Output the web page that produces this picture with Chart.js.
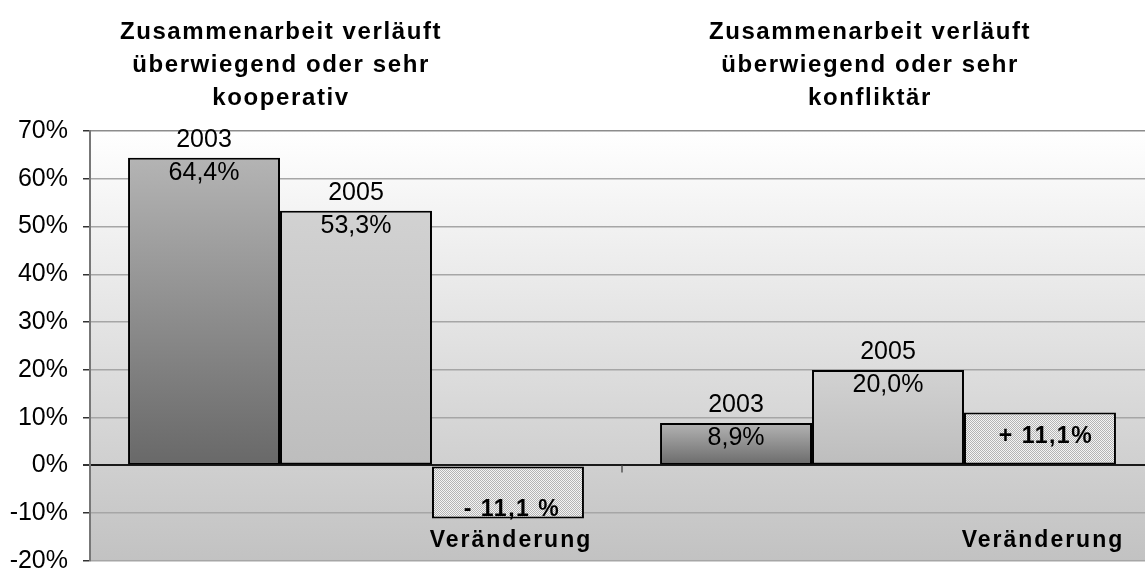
<!DOCTYPE html>
<html>
<head>
<meta charset="utf-8">
<script src="https://cdn.jsdelivr.net/npm/chart.js@4.4.0/dist/chart.umd.min.js"></script>
<style>
  html, body { margin: 0; padding: 0; background: #fff; overflow: hidden; }
  canvas { display: block; }
</style>
</head>
<body>
<canvas id="bar-chart" width="1154" height="569"></canvas>
<script>
// Daten
const categories = ['kooperativ', 'konfliktär'];
const seriesNames = ['2003', '2005', 'Veränderung'];
const values2003 = [64.4, 8.9];
const values2005 = [53.3, 20.0];
const valuesChange = [-11.1, 11.1];
const changeLabels = ['- 11,1 %', '+ 11,1%'];
const titles = [
    ['Zusammenarbeit verläuft', 'überwiegend oder sehr', 'kooperativ'],
    ['Zusammenarbeit verläuft', 'überwiegend oder sehr', 'konfliktär']
];
const yMin = -20, yMax = 70, yStep = 10;

const FONT = "'Liberation Sans', Arial, sans-serif";

// Schraffur fuer die Veraenderung
const pc = document.createElement('canvas');
pc.width = 2; pc.height = 2;
const pctx = pc.getContext('2d');
pctx.fillStyle = '#f4f4f4'; pctx.fillRect(0, 0, 2, 2);
pctx.fillStyle = '#b4b4b4'; pctx.fillRect(0, 0, 1, 1); pctx.fillRect(1, 1, 1, 1);
const hatch = pctx.createPattern(pc, 'repeat');

// Verlauf pro Balken
function barGradient(top, bottom) {
    return function (c) {
        const chart = c.chart;
        if (!chart.chartArea || c.raw === undefined) return bottom;
        const y = chart.scales.y;
        const y0 = y.getPixelForValue(c.raw);
        const y1 = y.getPixelForValue(0);
        const g = chart.ctx.createLinearGradient(0, Math.min(y0, y1), 0, Math.max(y0, y1) + 1);
        g.addColorStop(0, top);
        g.addColorStop(1, bottom);
        return g;
    };
}

const plotBackground = {
    id: 'plotBackground',
    beforeDraw(chart) {
        const a = chart.chartArea, ctx = chart.ctx;
        const g = ctx.createLinearGradient(0, a.top, 0, a.bottom);
        g.addColorStop(0, '#ffffff');
        g.addColorStop(1, '#c2c2c2');
        ctx.save();
        ctx.fillStyle = g;
        ctx.fillRect(a.left, a.top, a.right - a.left, a.bottom - a.top);
        ctx.restore();
    }
};

const annotations = {
    id: 'annotations',
    afterDatasetsDraw(chart) {
        const ctx = chart.ctx, a = chart.chartArea;
        const x = chart.scales.x, y = chart.scales.y;
        const zero = y.getPixelForValue(0);
        ctx.save();

        // kleiner Teilstrich zwischen den Kategorien
        const mid = (x.getPixelForValue(0) + x.getPixelForValue(1)) / 2;
        ctx.strokeStyle = '#555';
        ctx.lineWidth = 1.5;
        ctx.beginPath();
        ctx.moveTo(mid, zero);
        ctx.lineTo(mid, zero + 7);
        ctx.stroke();

        ctx.fillStyle = '#000';
        ctx.textAlign = 'center';
        ctx.textBaseline = 'alphabetic';

        // Jahr und Wert
        ctx.font = '25px ' + FONT;
        [0, 1].forEach(function (di) {
            const meta = chart.getDatasetMeta(di);
            const data = chart.data.datasets[di].data;
            meta.data.forEach(function (bar, i) {
                ctx.fillText(seriesNames[di], bar.x, bar.y - 11);
                ctx.fillText(data[i].toFixed(1).replace('.', ',') + '%', bar.x, bar.y + 22);
            });
        });

        // Veraenderung
        ctx.font = 'bold 23px ' + FONT;
        ctx.letterSpacing = '1.5px';
        const meta = chart.getDatasetMeta(2);
        meta.data.forEach(function (bar, i) {
            const v = chart.data.datasets[2].data[i];
            if (v < 0) {
                ctx.fillText(changeLabels[i], bar.x + 4, bar.y - 2);
            } else {
                ctx.fillText(changeLabels[i], bar.x + 6, (bar.y + bar.base) / 2 + 5);
            }
            ctx.letterSpacing = '2px';
            ctx.fillText(seriesNames[2], bar.x + 3, a.bottom - 14);
            ctx.letterSpacing = '1.5px';
        });

        // Ueberschriften
        ctx.font = 'bold 24px ' + FONT;
        ctx.letterSpacing = '1.6px';
        const titleX = [281, 870];
        titles.forEach(function (lines, k) {
            lines.forEach(function (line, j) {
                ctx.fillText(line, titleX[k], 39 + j * 33);
            });
        });
        ctx.restore();
    }
};

const ctx1 = document.getElementById('bar-chart').getContext('2d');
const myChart = new Chart(ctx1, {
    type: 'bar',
    data: {
        labels: categories,
        datasets: [{
            label: seriesNames[0],
            data: values2003,
            backgroundColor: barGradient('#b4b4b4', '#686868'),
            borderColor: '#000',
            borderWidth: 2,
            borderSkipped: false
        }, {
            label: seriesNames[1],
            data: values2005,
            backgroundColor: barGradient('#d2d2d2', '#bdbdbd'),
            borderColor: '#000',
            borderWidth: 2,
            borderSkipped: false
        }, {
            label: seriesNames[2],
            data: valuesChange,
            backgroundColor: hatch,
            borderColor: '#000',
            borderWidth: 2,
            borderSkipped: false
        }]
    },
    options: {
        responsive: false,
        animation: false,
        layout: {
            padding: { left: 0, right: 0, top: 131, bottom: 8 }
        },
        datasets: {
            bar: {
                categoryPercentage: 0.857,
                barPercentage: 1
            }
        },
        scales: {
            x: {
                display: false
            },
            y: {
                min: yMin,
                max: yMax,
                afterFit: function (scale) {
                    scale.width = 90;
                    scale.paddingTop = 0;
                    scale.paddingBottom = 0;
                },
                ticks: {
                    stepSize: yStep,
                    color: '#000',
                    padding: 15,
                    font: { family: FONT, size: 25 },
                    callback: function (v) { return v + '%'; }
                },
                grid: {
                    tickLength: 7,
                    tickColor: '#333',
                    color: function (c) {
                        if (c.tick && c.tick.value === 0) return '#1a1a1a';
                        if (c.tick && c.tick.value === yMax) return '#8c8c8c';
                        return '#a6a6a6';
                    },
                    lineWidth: function (c) {
                        return (c.tick && c.tick.value === 0) ? 2 : 1.5;
                    }
                },
                border: {
                    color: '#777',
                    width: 2
                }
            }
        },
        plugins: {
            legend: { display: false },
            tooltip: { enabled: false }
        }
    },
    plugins: [plotBackground, annotations]
});
</script>
</body>
</html>
